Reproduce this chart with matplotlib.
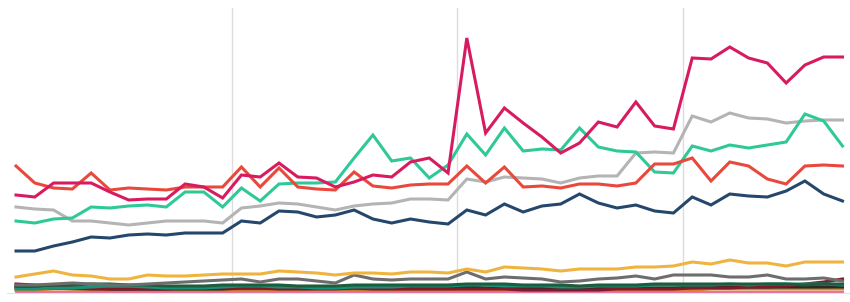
import numpy as np
import matplotlib
matplotlib.use("Agg")
import matplotlib.pyplot as plt

# 45 monthly points, year breaks between points 11/12, 23/24, 35/36
meses = np.arange(45)
cortes_anio = [11.5, 23.5, 35.5]

magenta = [98, 96, 110, 110, 110, 101, 93, 94, 94, 109, 106, 95, 118, 116, 130, 116, 115, 106, 111, 118, 116, 131, 135,
           120, 255, 160, 185, 170, 156, 140, 150, 171, 166, 191, 167, 164, 235, 234, 246, 235, 230, 210, 228, 236, 236]
rojo = [127, 110, 105, 104, 120, 103, 105, 104, 103, 106, 106, 106, 126, 106, 125, 106, 104, 103, 121, 107, 105, 108, 109,
        109, 127, 110, 126, 106, 107, 105, 109, 109, 107, 110, 129, 129, 135, 112, 131, 127, 114, 109, 127, 128, 127]
verde = [72, 70, 74, 75, 86, 85, 87, 88, 86, 101, 101, 86, 105, 92, 109, 110, 110, 111, 135, 158, 132, 135, 115, 128, 159,
         138, 165, 142, 144, 143, 165, 146, 142, 141, 121, 120, 147, 142, 148, 145, 148, 151, 179, 172, 147]
gris = [86, 84, 83, 72, 72, 70, 68, 70, 72, 72, 72, 70, 85, 87, 90, 89, 86, 83, 87, 89, 90, 94, 94, 93, 114, 111, 116, 115,
        114, 110, 115, 117, 117, 140, 141, 140, 177, 171, 180, 175, 174, 170, 172, 173, 173]
azul = [42, 42, 47, 51, 56, 55, 58, 59, 58, 60, 60, 60, 72, 70, 82, 81, 76, 78, 83, 74, 70, 74, 71, 69, 83, 78, 89, 81, 87,
        89, 99, 90, 85, 88, 82, 80, 96, 88, 99, 97, 96, 102, 112, 99, 92]
amarillo = [16, 19, 22, 18, 17, 14, 14, 18, 17, 17, 18, 19, 19, 19, 22, 21, 20, 18, 20, 20, 19, 21, 21, 20, 24, 21, 26, 25,
            24, 22, 24, 24, 24, 26, 26, 27, 31, 29, 33, 30, 30, 27, 31, 31, 31]
gris_oscuro = [8, 8, 9, 10, 9, 8, 8, 9, 10, 11, 12, 13, 14, 11, 14, 14, 12, 10, 18, 14, 13, 14, 14, 14, 21, 14, 16, 15, 14,
               11, 12, 14, 15, 17, 14, 18, 18, 18, 16, 16, 18, 14, 14, 15, 12]

# series pequeñas del fondo
verde_oscuro = [7, 7, 8, 8, 9, 9, 8, 8, 7, 7, 7, 8, 8, 8, 8, 7, 7, 7, 8, 8, 8, 8, 8, 8, 9, 9, 9, 8, 8, 8, 7, 8, 8, 8, 9, 9,
                9, 9, 9, 9, 9, 9, 8, 9, 9]
turquesa = [4, 4, 5, 5, 6, 7, 7, 6, 5, 5, 5, 6, 7, 7, 6, 6, 5, 5, 6, 6, 6, 7, 7, 7, 8, 8, 7, 7, 7, 6, 6, 7, 7, 7, 8, 8, 8, 8,
            9, 8, 9, 9, 9, 9, 8]
granate = [9, 8, 7, 5, 4, 4, 4, 4, 4, 5, 5, 5, 5, 5, 4, 4, 4, 4, 5, 4, 4, 4, 4, 4, 4, 4, 4, 3, 3, 3, 3, 3, 4, 4, 4, 4, 5, 5,
           5, 6, 6, 7, 9, 11, 14]
marron = [5, 5, 5, 4, 4, 4, 4, 4, 4, 4, 4, 4, 4, 4, 4, 4, 4, 4, 4, 4, 4, 4, 4, 4, 5, 5, 5, 5, 5, 5, 5, 5, 5, 5, 5, 5, 5, 6,
          6, 6, 6, 6, 6, 6, 7]
negro = [6, 5, 5, 5, 5, 4, 4, 4, 4, 4, 4, 4, 5, 5, 5, 5, 5, 5, 5, 5, 5, 5, 5, 5, 6, 5, 5, 5, 5, 5, 5, 5, 5, 5, 5, 5, 6, 6, 6,
         6, 6, 6, 6, 6, 6]
naranja = [3, 3, 4, 4, 3, 3, 3, 3, 3, 3, 3, 3, 3, 3, 3, 3, 4, 4, 3, 3, 3, 3, 3, 3, 3, 3, 3, 3, 3, 3, 3, 3, 3, 3, 3, 3, 3, 4,
           4, 4, 4, 4, 4, 4, 4]
rosa = [1.5] * 45

series = [
    (rosa, '#e8709a'),
    (naranja, '#d9812b'),
    (marron, '#a5782c'),
    (negro, '#2a2a2a'),
    (granate, '#7d1a2c'),
    (turquesa, '#17917a'),
    (verde_oscuro, '#1d5c3c'),
    (gris_oscuro, '#6d6d6d'),
    (amarillo, '#efb43f'),
    (azul, '#25476c'),
    (gris, '#b4b4b4'),
    (verde, '#2fc998'),
    (rojo, '#e9493c'),
    (magenta, '#d81b60'),
]

fig = plt.figure(figsize=(8.5, 3.02), dpi=100)
ax = fig.add_axes([7 / 850, 9 / 302, 843 / 850, 285 / 302])

for x in cortes_anio:
    ax.axvline(x, color='#dcdcdc', lw=1, zorder=0)

for valores, color in series:
    ax.plot(meses, valores, color=color, lw=2.2, solid_joinstyle='miter')

ax.set_xlim(-0.48, 44.4)
ax.set_ylim(0, 285)
ax.set_xticks([])
ax.set_yticks([])
for lado in ['top', 'right', 'left']:
    ax.spines[lado].set_visible(False)
ax.spines['bottom'].set_color('#e4e4e4')

fig.savefig('out.png', dpi=100)
